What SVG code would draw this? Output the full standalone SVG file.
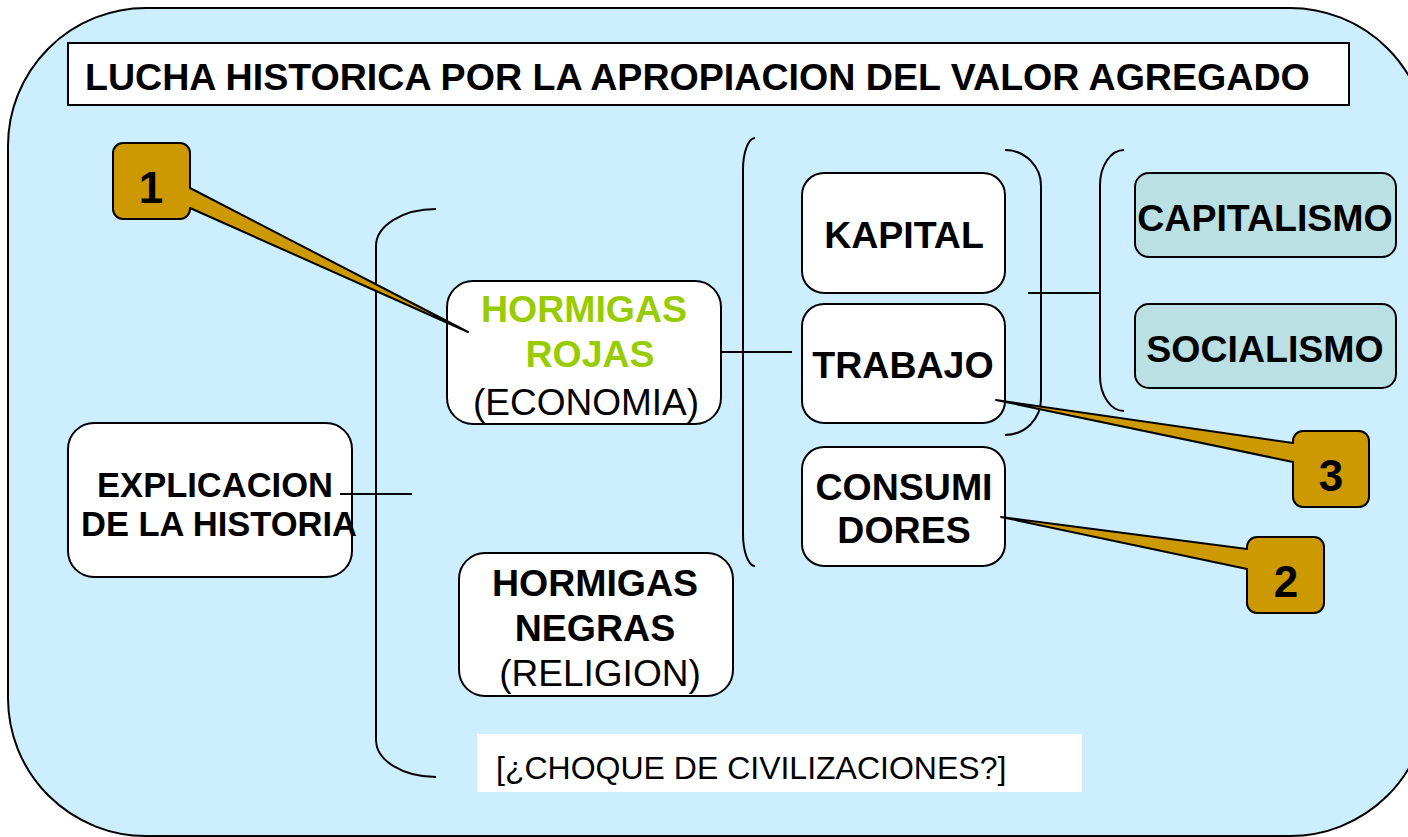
<svg xmlns="http://www.w3.org/2000/svg" width="1408" height="837" viewBox="0 0 1408 837">
<style>
.bg{fill:#cceeff;stroke:#000;stroke-width:2}
.node{fill:#fff;stroke:#000;stroke-width:2}
.sys{fill:#bbe0e3;stroke:#000;stroke-width:2}
.call{fill:#cc9900;stroke:#000;stroke-width:2;stroke-linejoin:round}
.ln{fill:none;stroke:#000;stroke-width:2}
text{font-family:"Liberation Sans",Arial,sans-serif;fill:#000}
.b{font-weight:bold;font-size:37.5px;text-anchor:middle}
.r{font-size:37px;text-anchor:middle}
.num{font-weight:bold;font-size:44px;text-anchor:middle}
.green{fill:#99cc00}
</style>
<rect class="bg" x="8" y="8" width="1420" height="828" rx="138" ry="138"/>
<g id="title">
<rect x="68" y="43" width="1281" height="62" fill="#fff" stroke="#000" stroke-width="2"/>
<text x="85" y="90" font-weight="bold" font-size="37.6">LUCHA HISTORICA POR LA APROPIACION DEL VALOR AGREGADO</text>
</g>
<g id="connectors">
<path class="ln" d="M436,209 A60,37 0 0 0 376,246 V740 A60,37 0 0 0 436,777"/>
<path class="ln" d="M755,138 A12,32 0 0 0 743,170 V534 A12,32 0 0 0 755,566"/>
<path class="ln" d="M1005,150 A36,36 0 0 1 1041,186 V399 A36,36 0 0 1 1005,435"/>
<path class="ln" d="M1124,150 A24,35 0 0 0 1100,185 V376 A24,35 0 0 0 1124,411"/>
<line class="ln" x1="340" y1="494" x2="412" y2="494"/>
<line class="ln" x1="708" y1="352" x2="792" y2="352"/>
<line class="ln" x1="1028" y1="293" x2="1100" y2="293"/>
</g>
<g id="explicacion">
<rect class="node" x="68" y="423" width="284" height="154" rx="26"/>
<text class="b" x="215" y="497" style="font-size:34.5px">EXPLICACION</text>
<text class="b" x="219" y="536" style="font-size:34.5px">DE LA HISTORIA</text>
</g>
<line class="ln" x1="340" y1="494" x2="356" y2="494"/>
<g id="rojas">
<rect class="node" x="447" y="281" width="274" height="143" rx="26"/>
<text class="b green" x="584" y="322">HORMIGAS</text>
<text class="b green" x="590" y="367">ROJAS</text>
<text class="r" x="586" y="415">(ECONOMIA)</text>
</g>
<g id="negras">
<rect class="node" x="459" y="553" width="274" height="143" rx="26"/>
<text class="b" x="595" y="596">HORMIGAS</text>
<text class="b" x="595" y="641">NEGRAS</text>
<text class="r" x="600" y="686">(RELIGION)</text>
</g>
<g id="kapital">
<rect class="node" x="802" y="173" width="203" height="120" rx="22"/>
<text class="b" x="904" y="248">KAPITAL</text>
</g>
<g id="trabajo">
<rect class="node" x="802" y="304" width="203" height="119" rx="22"/>
<text class="b" x="903" y="378">TRABAJO</text>
</g>
<g id="consumidores">
<rect class="node" x="802" y="447" width="203" height="119" rx="22"/>
<text class="b" x="904" y="500">CONSUMI</text>
<text class="b" x="904" y="543">DORES</text>
</g>
<g id="capitalismo">
<rect class="sys" x="1135" y="173" width="261" height="84" rx="14"/>
<text class="b" x="1265" y="231">CAPITALISMO</text>
</g>
<g id="socialismo">
<rect class="sys" x="1135" y="304" width="261" height="84" rx="14"/>
<text class="b" x="1265" y="362">SOCIALISMO</text>
</g>
<g id="choque">
<rect x="477" y="734" width="605" height="58" fill="#fff"/>
<text x="496" y="779" font-size="32">[¿CHOQUE DE CIVILIZACIONES?]</text>
</g>
<g id="callout1">
<path class="call" d="M123,143 H180 A10,10 0 0 1 190,153 V188 L468,332 L190,208 V209 A10,10 0 0 1 180,219 H123 A10,10 0 0 1 113,209 V153 A10,10 0 0 1 123,143 Z"/>
<text class="num" x="151" y="203">1</text>
</g>
<g id="callout3">
<path class="call" d="M1303,431 H1359 A10,10 0 0 1 1369,441 V497 A10,10 0 0 1 1359,507 H1303 A10,10 0 0 1 1293,497 V462 L996,400 L1293,443 V441 A10,10 0 0 1 1303,431 Z"/>
<text class="num" x="1331" y="491">3</text>
</g>
<g id="callout2">
<path class="call" d="M1257,537 H1314 A10,10 0 0 1 1324,547 V603 A10,10 0 0 1 1314,613 H1257 A10,10 0 0 1 1247,603 V569 L1001,517 L1247,549 V547 A10,10 0 0 1 1257,537 Z"/>
<text class="num" x="1286" y="597">2</text>
</g>
</svg>
